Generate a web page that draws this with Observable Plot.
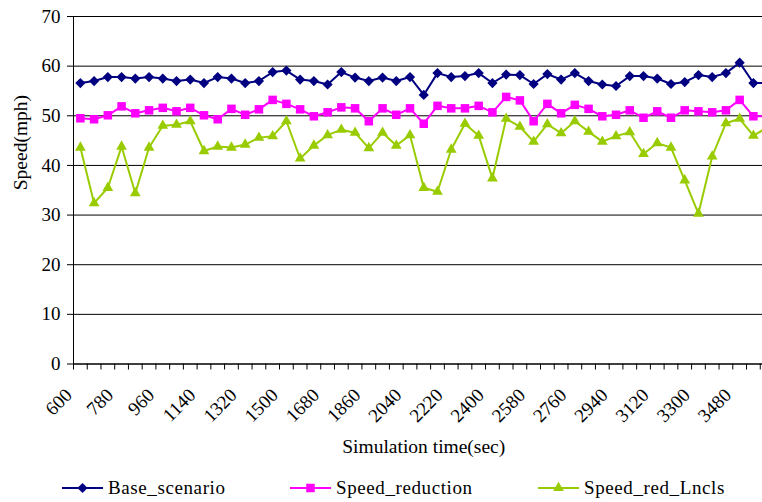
<!DOCTYPE html>
<html><head><meta charset="utf-8">
<script src="https://cdn.jsdelivr.net/npm/d3@7"></script>
<script src="https://cdn.jsdelivr.net/npm/@observablehq/plot@0.6"></script>
<style>
html,body{margin:0;padding:0;background:#fff;overflow:hidden;width:762px;height:502px;}
#chart{position:absolute;left:0;top:0;width:790px;}
#chart svg{max-width:none !important;}
#chart svg text{font-family:"Liberation Serif",serif !important;font-variant:normal !important;font-variant-numeric:normal !important;}
#legend{position:absolute;left:0;top:476px;width:762px;height:24px;font-family:"Liberation Serif",serif;font-size:19px;color:#000;}
.item{position:absolute;top:0;height:24px;display:flex;align-items:center;white-space:nowrap;letter-spacing:0.6px;}
.item svg{margin-right:5px;}
</style></head><body>
<div id="chart"></div><div id="legend"></div>
<script>
const times = [600,660,720,780,840,900,960,1020,1080,1140,1200,1260,1320,1380,1440,1500,1560,1620,1680,1740,1800,1860,1920,1980,2040,2100,2160,2220,2280,2340,2400,2460,2520,2580,2640,2700,2760,2820,2880,2940,3000,3060,3120,3180,3240,3300,3360,3420,3480,3540,3600];
const baseScenario = [56.6,57.0,57.8,57.8,57.5,57.8,57.5,57.0,57.3,56.6,57.8,57.5,56.6,57.0,58.8,59.1,57.3,57.0,56.3,58.8,57.7,57.0,57.7,57.0,57.8,54.2,58.6,57.8,58.0,58.6,56.6,58.3,58.2,56.4,58.4,57.3,58.6,57.0,56.3,56.0,58.0,58.0,57.5,56.4,56.8,58.2,57.8,58.6,60.7,56.6,56.6];
const speedReduction = [49.5,49.3,50.1,51.9,50.5,51.1,51.6,50.9,51.6,50.1,49.3,51.4,50.2,51.3,53.2,52.4,51.3,49.9,50.7,51.7,51.5,48.9,51.5,50.2,51.5,48.4,52.0,51.5,51.5,52.0,50.7,53.8,53.1,48.9,52.4,50.5,52.2,51.4,49.9,50.2,51.1,49.6,50.9,49.6,51.1,50.9,50.7,51.1,53.2,49.9,49.9];
const speedRedLncls = [43.6,32.4,35.5,43.8,34.4,43.6,48.0,48.2,48.9,42.9,43.8,43.6,44.2,45.6,45.9,48.9,41.4,44.0,46.1,47.2,46.6,43.5,46.6,44.0,46.1,35.5,34.7,43.2,48.4,46.0,37.4,49.4,47.8,44.8,48.3,46.5,48.9,46.8,44.8,45.9,46.7,42.3,44.5,43.6,37.0,30.3,41.8,48.5,49.4,46.0,47.6];
const xTickLabels = [600,780,960,1140,1320,1500,1680,1860,2040,2220,2400,2580,2760,2940,3120,3300,3480];
const yTicks = [0,10,20,30,40,50,60,70];
const seriesNames = ["Base_scenario","Speed_reduction","Speed_red_Lncls"];
const seriesColors = ["#000080","#FF00FF","#99CC00"];
const seriesSymbols = ["diamond2","square","triangle"];
const markerR = [4.6,4.8,4.0];
const xTitle = "Simulation time(sec)";
const yTitle = "Speed(mph)";

const seriesValues = [baseScenario, speedReduction, speedRedLncls];
const rows = [];
seriesNames.forEach((name, k) => times.forEach((t, i) => rows.push({time: t, speed: seriesValues[k][i], series: name})));
const step = times[1] - times[0];
const boundaries = times.map(t => t - step / 2).concat([times[times.length - 1] + step / 2]);
const font = "Liberation Serif";

const chart = Plot.plot({
  width: 790, height: 470,
  marginLeft: 73, marginRight: 16.5, marginTop: 16, marginBottom: 106.5,
  style: {fontFamily: font, fontSize: "19px", color: "#000", background: "#fff", overflow: "hidden", maxWidth: "none"},
  x: {domain: [boundaries[0], boundaries[boundaries.length - 1]], label: null},
  y: {domain: [0, 70], label: null},
  color: {domain: seriesNames, range: seriesColors},
  symbol: {domain: seriesNames, range: seriesSymbols},
  marks: [
    Plot.gridY(yTicks, {stroke: "#000", strokeOpacity: 1}),
    Plot.axisY(yTicks, {tickSize: 6, tickPadding: 7, fontSize: 19, fontFamily: font, fontVariant: "normal", tickFormat: d => String(d)}),
    Plot.axisX(boundaries, {tickSize: 6, tickFormat: () => ""}),
    Plot.axisX(xTickLabels, {tickSize: 0, tickRotate: -45, tickPadding: 28, dx: -11.5, fontSize: 19, fontFamily: font, fontVariant: "normal", tickFormat: d => String(d)}),
    Plot.ruleX([boundaries[0]], {stroke: "#000"}),
    Plot.ruleY([0], {stroke: "#000"}),
    Plot.line(rows, {x: "time", y: "speed", z: "series", stroke: "series", strokeWidth: 2}),
    ...seriesNames.map((name, k) => Plot.dot(rows, {filter: d => d.series === name, x: "time", y: "speed", symbol: "series", fill: "series", stroke: null, r: markerR[k]})),
    Plot.text([xTitle], {frameAnchor: "bottom", dy: 89, text: d => d, fontSize: 19.5, fontFamily: font}),
    Plot.text([yTitle], {frameAnchor: "left", rotate: -90, dx: -53, text: d => d, fontSize: 19.5, fontFamily: font})
  ]
});
chart.style.maxWidth = "none";
document.getElementById("chart").appendChild(chart);

const legend = document.getElementById("legend");
const legendX = [62, 290, 538];
seriesNames.forEach((name, k) => {
  const item = document.createElement("div");
  item.className = "item";
  item.style.left = legendX[k] + "px";
  const sym = {diamond2: d3.symbolDiamond2, square: d3.symbolSquare, triangle: d3.symbolTriangle}[seriesSymbols[k]];
  const path = d3.symbol(sym, markerR[k] * markerR[k] * Math.PI)();
  item.innerHTML = `<svg width="41" height="20"><line x1="0" x2="41" y1="10" y2="10" stroke="${seriesColors[k]}" stroke-width="2"/><path transform="translate(20.5,10)" d="${path}" fill="${seriesColors[k]}"/></svg><span>${name}</span>`;
  legend.appendChild(item);
});
</script>
</body></html>
